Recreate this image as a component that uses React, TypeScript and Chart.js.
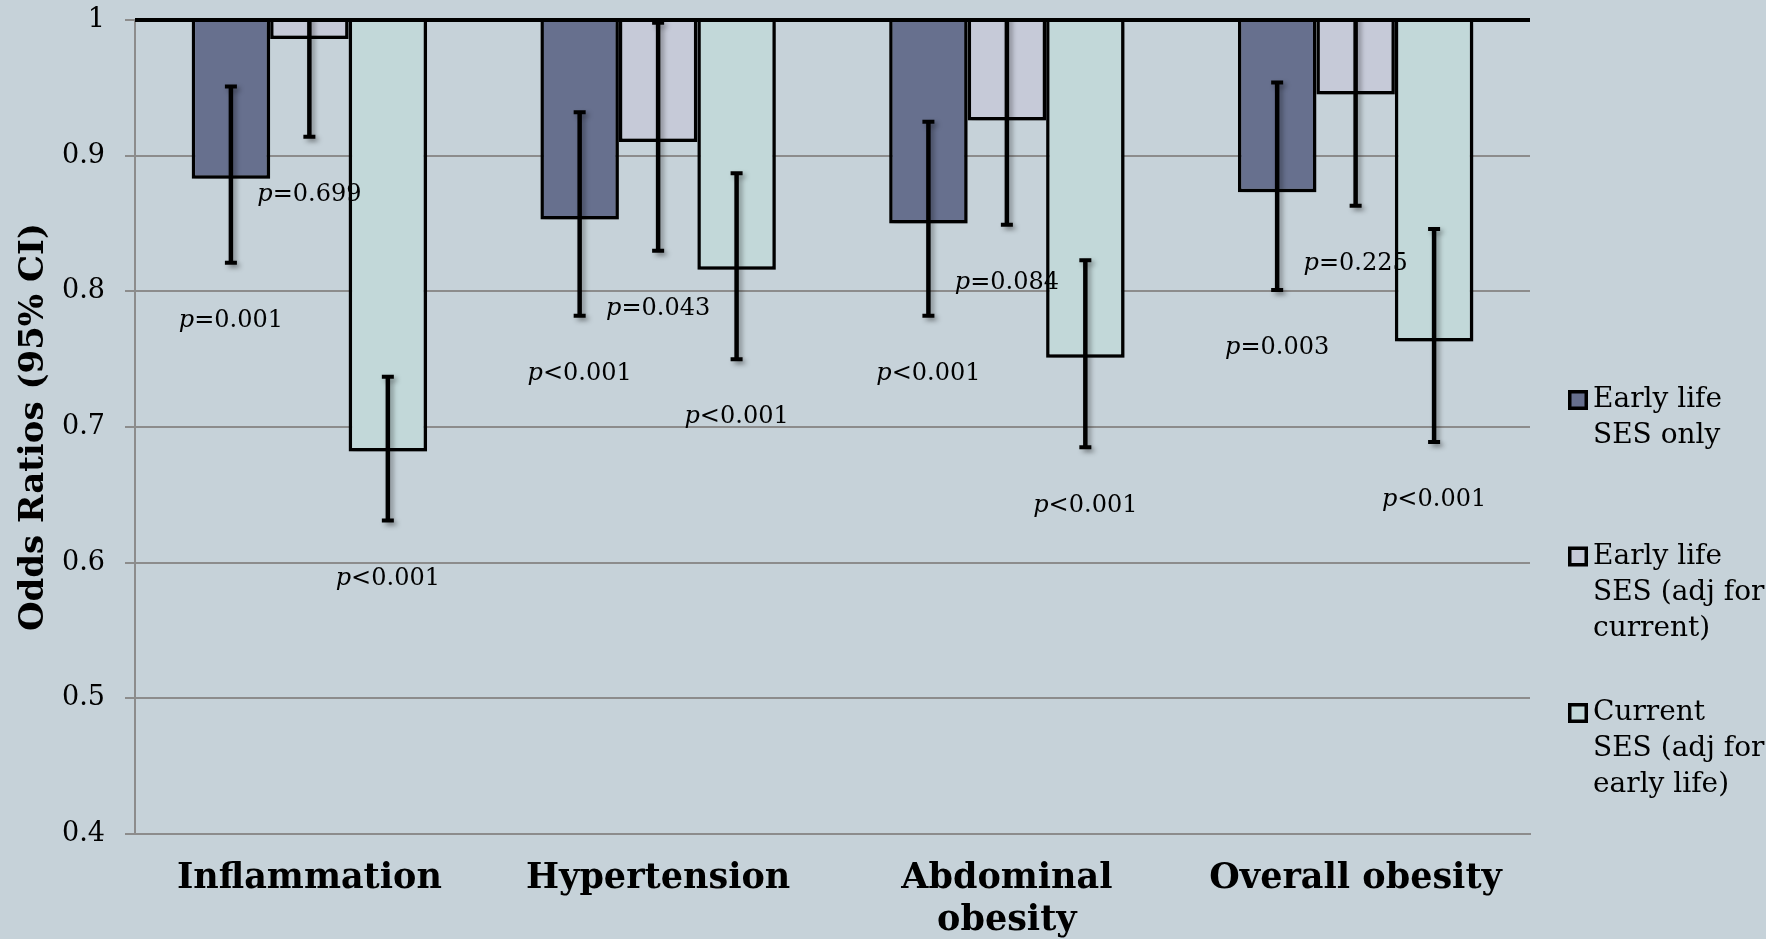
import React, { useEffect, useRef } from 'react';
import { Chart, registerables } from 'chart.js';

Chart.register(...registerables);

// ---------- data ----------
const categories: (string | string[])[] = ['Inflammation', 'Hypertension', ['Abdominal', 'obesity'], 'Overall obesity'];

const seriesNames: string[][] = [
  ['Early life', 'SES only'],
  ['Early life', 'SES (adj for', 'current)'],
  ['Current', 'SES (adj for', 'early life)'],
];

// Early life SES only
const earlyOR = [0.883, 0.853, 0.850, 0.873];
const earlyLo = [0.821, 0.782, 0.782, 0.801];
const earlyHi = [0.951, 0.932, 0.925, 0.954];
const earlyP = ['p=0.001', 'p<0.001', 'p<0.001', 'p=0.003'];

// Early life SES (adj for current)
const adjOR = [0.986, 0.910, 0.926, 0.945];
const adjLo = [0.914, 0.830, 0.849, 0.863];
const adjHi = [1.064, 0.998, 1.010, 1.035];
const adjP = ['p=0.699', 'p=0.043', 'p=0.084', 'p=0.225'];

// Current SES (adj for early life)
const curOR = [0.682, 0.816, 0.751, 0.763];
const curLo = [0.631, 0.750, 0.685, 0.689];
const curHi = [0.737, 0.887, 0.823, 0.846];
const curP = ['p<0.001', 'p<0.001', 'p<0.001', 'p<0.001'];

const REF_VALUE = 1;
const Y_MIN = 0.4;
const Y_MAX = 1;
const Y_STEP = 0.1;

// ---------- styles ----------
const BG = '#C6D2D9';
const seriesColors = ['#67708E', '#C6CAD8', '#C2D8D9'];
const GRID = '#8C8C8C';
const SERIF = '"DejaVu Serif", "Liberation Serif", serif';

export default function App() {
  const ref = useRef<HTMLCanvasElement>(null);

  useEffect(() => {
    document.body.style.margin = '0';
    const canvas = ref.current;
    if (!canvas) return;

    const series = [
      { or: earlyOR, lo: earlyLo, hi: earlyHi, p: earlyP },
      { or: adjOR, lo: adjLo, hi: adjHi, p: adjP },
      { or: curOR, lo: curLo, hi: curHi, p: curP },
    ];

    const overlayPlugin = {
      id: 'overlay',
      beforeDatasetsDraw(chart: any) {
        const c = chart.ctx;
        c.save();
        c.shadowColor = 'rgba(0,0,0,0.35)';
        c.shadowBlur = 6;
        c.shadowOffsetX = 3;
        c.shadowOffsetY = 3;
      },
      afterDatasetsDraw(chart: any) {
        const c = chart.ctx;
        c.restore();
        const y = chart.scales.y;
        const area = chart.chartArea;

        // error bars (clipped to plot area)
        c.save();
        c.beginPath();
        c.rect(area.left, area.top, area.right - area.left, area.bottom - area.top);
        c.clip();
        c.shadowColor = 'rgba(0,0,0,0.35)';
        c.shadowBlur = 5;
        c.shadowOffsetX = 3;
        c.shadowOffsetY = 3;
        c.strokeStyle = '#000';
        c.lineCap = 'butt';
        series.forEach((s, di) => {
          const meta = chart.getDatasetMeta(di);
          meta.data.forEach((bar: any, i: number) => {
            const x = bar.x;
            const yLo = y.getPixelForValue(s.lo[i]);
            const yHi = y.getPixelForValue(s.hi[i]);
            c.lineWidth = 4.5;
            c.beginPath();
            c.moveTo(x, yHi);
            c.lineTo(x, yLo);
            c.stroke();
            c.lineWidth = 4;
            c.beginPath();
            c.moveTo(x - 6, yHi);
            c.lineTo(x + 6, yHi);
            c.moveTo(x - 6, yLo);
            c.lineTo(x + 6, yLo);
            c.stroke();
          });
        });
        c.restore();

        // reference line at OR = 1
        c.save();
        const yRef = y.getPixelForValue(REF_VALUE);
        c.strokeStyle = '#000';
        c.lineWidth = 4;
        c.beginPath();
        c.moveTo(area.left, yRef);
        c.lineTo(area.right, yRef);
        c.stroke();
        c.restore();

        // p-value labels
        c.save();
        c.fillStyle = '#000';
        c.textBaseline = 'middle';
        c.textAlign = 'left';
        series.forEach((s, di) => {
          const meta = chart.getDatasetMeta(di);
          meta.data.forEach((bar: any, i: number) => {
            const txt = s.p[i];
            const rest = txt.slice(1);
            c.font = `italic 24px ${SERIF}`;
            const w1 = c.measureText('p').width;
            c.font = `24px ${SERIF}`;
            const w2 = c.measureText(rest).width;
            const x0 = bar.x - (w1 + w2) / 2;
            const yy = y.getPixelForValue(s.lo[i]) + 58;
            c.font = `italic 24px ${SERIF}`;
            c.fillText('p', x0, yy);
            c.font = `24px ${SERIF}`;
            c.fillText(rest, x0 + w1, yy);
          });
        });
        c.restore();
      },
      afterDraw(chart: any) {
        const c = chart.ctx;
        const area = chart.chartArea;
        c.save();
        const lx = area.right + 38;
        const firstY = area.top + 380;
        const lineH = 36;
        const itemGap = 156.5;
        c.textBaseline = 'middle';
        c.textAlign = 'left';
        c.font = `28px ${SERIF}`;
        c.fillStyle = '#000';
        seriesNames.forEach((lines, i) => {
          const y0 = firstY + i * itemGap;
          c.fillStyle = seriesColors[i];
          c.fillRect(lx, y0 - 10, 20, 20);
          c.strokeStyle = '#000';
          c.lineWidth = 3.5;
          c.strokeRect(lx + 1.75, y0 - 8.25, 16.5, 16.5);
          c.fillStyle = '#000';
          lines.forEach((ln, li) => {
            c.fillText(ln, lx + 25, y0 + li * lineH);
          });
        });
        c.restore();
      },
    };

    const chart = new Chart(canvas, {
      type: 'bar',
      data: {
        labels: categories as any,
        datasets: series.map((s, i) => ({
          label: seriesNames[i].join(' '),
          data: s.or.map((v) => [v, REF_VALUE]) as any,
          backgroundColor: seriesColors[i],
          borderColor: '#000',
          borderWidth: 3.5,
          borderSkipped: 'top' as any,
          categoryPercentage: 0.675,
          barPercentage: 1,
        })),
      },
      options: {
        responsive: false,
        animation: false,
        devicePixelRatio: 1,
        layout: { padding: { top: 20, left: 0, right: 236, bottom: 0 } },
        plugins: {
          legend: { display: false },
          tooltip: { enabled: false },
          title: { display: false },
        },
        scales: {
          x: {
            grid: { display: false, drawTicks: false },
            border: { display: true, color: GRID, width: 2 },
            ticks: {
              color: '#000',
              padding: 24,
              maxRotation: 0,
              autoSkip: false,
              font: { family: SERIF, size: 35, weight: 'bold', lineHeight: 1.2 },
            },
            afterFit(scale: any) {
              scale.height = 105;
              scale.paddingLeft = 0;
              scale.paddingRight = 0;
            },
          },
          y: {
            min: Y_MIN,
            max: Y_MAX,
            ticks: {
              stepSize: Y_STEP,
              color: '#000',
              padding: 20,
              font: { family: SERIF, size: 27 },
              callback: (v: any) => String(Math.round(Number(v) * 10) / 10),
            },
            grid: {
              color: GRID,
              lineWidth: 2,
              tickColor: GRID,
              tickLength: 10,
              drawTicks: true,
            },
            border: { display: true, color: GRID, width: 2 },
            title: {
              display: true,
              text: 'Odds Ratios (95% CI)',
              color: '#000',
              font: { family: SERIF, size: 34, weight: 'bold', lineHeight: 1.2 },
              padding: { top: 14, bottom: 0 },
            },
            afterFit(scale: any) {
              scale.width = 135;
              scale.paddingTop = 0;
              scale.paddingBottom = 0;
            },
          },
        },
      },
      plugins: [overlayPlugin],
    });

    return () => chart.destroy();
  }, []);

  return (
    <div style={{ width: 1766, height: 939, background: BG, overflow: 'hidden' }}>
      <canvas ref={ref} width={1766} height={939} style={{ display: 'block', width: 1766, height: 939 }} />
    </div>
  );
}
